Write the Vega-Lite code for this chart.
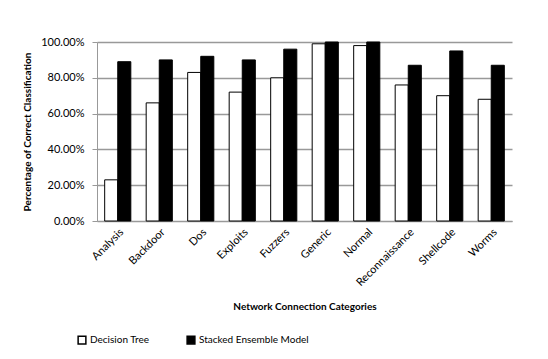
{
  "$schema": "https://vega.github.io/schema/vega-lite/v6.json",
  "autosize": "none",
  "padding": {"left": 97, "top": 42, "right": 36, "bottom": 138},
  "width": 415,
  "height": 179,
  "background": "white",
  "data": {
    "values": [
      {"category": "Analysis", "model": "Decision Tree", "value": 0.23},
      {"category": "Analysis", "model": "Stacked Ensemble Model", "value": 0.89},
      {"category": "Backdoor", "model": "Decision Tree", "value": 0.66},
      {"category": "Backdoor", "model": "Stacked Ensemble Model", "value": 0.90},
      {"category": "Dos", "model": "Decision Tree", "value": 0.83},
      {"category": "Dos", "model": "Stacked Ensemble Model", "value": 0.92},
      {"category": "Exploits", "model": "Decision Tree", "value": 0.72},
      {"category": "Exploits", "model": "Stacked Ensemble Model", "value": 0.90},
      {"category": "Fuzzers", "model": "Decision Tree", "value": 0.80},
      {"category": "Fuzzers", "model": "Stacked Ensemble Model", "value": 0.96},
      {"category": "Generic", "model": "Decision Tree", "value": 0.99},
      {"category": "Generic", "model": "Stacked Ensemble Model", "value": 1.0},
      {"category": "Normal", "model": "Decision Tree", "value": 0.98},
      {"category": "Normal", "model": "Stacked Ensemble Model", "value": 1.0},
      {"category": "Reconnaissance", "model": "Decision Tree", "value": 0.76},
      {"category": "Reconnaissance", "model": "Stacked Ensemble Model", "value": 0.87},
      {"category": "Shellcode", "model": "Decision Tree", "value": 0.70},
      {"category": "Shellcode", "model": "Stacked Ensemble Model", "value": 0.95},
      {"category": "Worms", "model": "Decision Tree", "value": 0.68},
      {"category": "Worms", "model": "Stacked Ensemble Model", "value": 0.87}
    ]
  },
  "mark": {"type": "bar", "stroke": "black", "strokeWidth": 1},
  "encoding": {
    "x": {
      "field": "category",
      "type": "nominal",
      "sort": null,
      "scale": {"paddingInner": 0.37, "paddingOuter": 0.185},
      "axis": {
        "title": "Network Connection Categories",
        "titleFont": "Lato",
        "titleFontSize": 10,
        "titleFontWeight": "bold",
        "titleColor": "black",
        "titlePadding": 14,
        "labelAngle": -45,
        "labelFont": "Lato",
        "labelFontSize": 11,
        "labelColor": "black",
        "labelPadding": 5,
        "ticks": false,
        "domainColor": "#999999",
        "domainWidth": 1
      }
    },
    "xOffset": {"field": "model", "type": "nominal"},
    "y": {
      "field": "value",
      "type": "quantitative",
      "scale": {"domain": [0, 1]},
      "axis": {
        "title": "Percentage  of Correct  Classification",
        "titleFont": "Lato",
        "titleFontSize": 10,
        "titleFontWeight": "bold",
        "titleColor": "black",
        "titlePadding": 8,
        "format": ".2%",
        "values": [0, 0.2, 0.4, 0.6, 0.8, 1.0],
        "labelFont": "Lato",
        "labelFontSize": 11,
        "labelColor": "black",
        "labelPadding": 8,
        "tickColor": "#999999",
        "tickSize": 5,
        "domainColor": "#999999",
        "gridColor": "#999999",
        "gridWidth": 1.5
      }
    },
    "fill": {
      "field": "model",
      "type": "nominal",
      "scale": {"domain": ["Decision Tree", "Stacked Ensemble Model"], "range": ["white", "black"]},
      "legend": {
        "title": null,
        "orient": "none",
        "legendX": -20,
        "legendY": 293,
        "direction": "horizontal",
        "columns": 2,
        "columnPadding": 34,
        "symbolType": "square",
        "symbolSize": 60,
        "symbolStrokeColor": "black",
        "symbolStrokeWidth": 1.5,
        "labelFont": "Lato",
        "labelFontSize": 10,
        "labelColor": "black",
        "labelOffset": 3
      }
    }
  },
  "config": {"view": {"stroke": null}}
}
